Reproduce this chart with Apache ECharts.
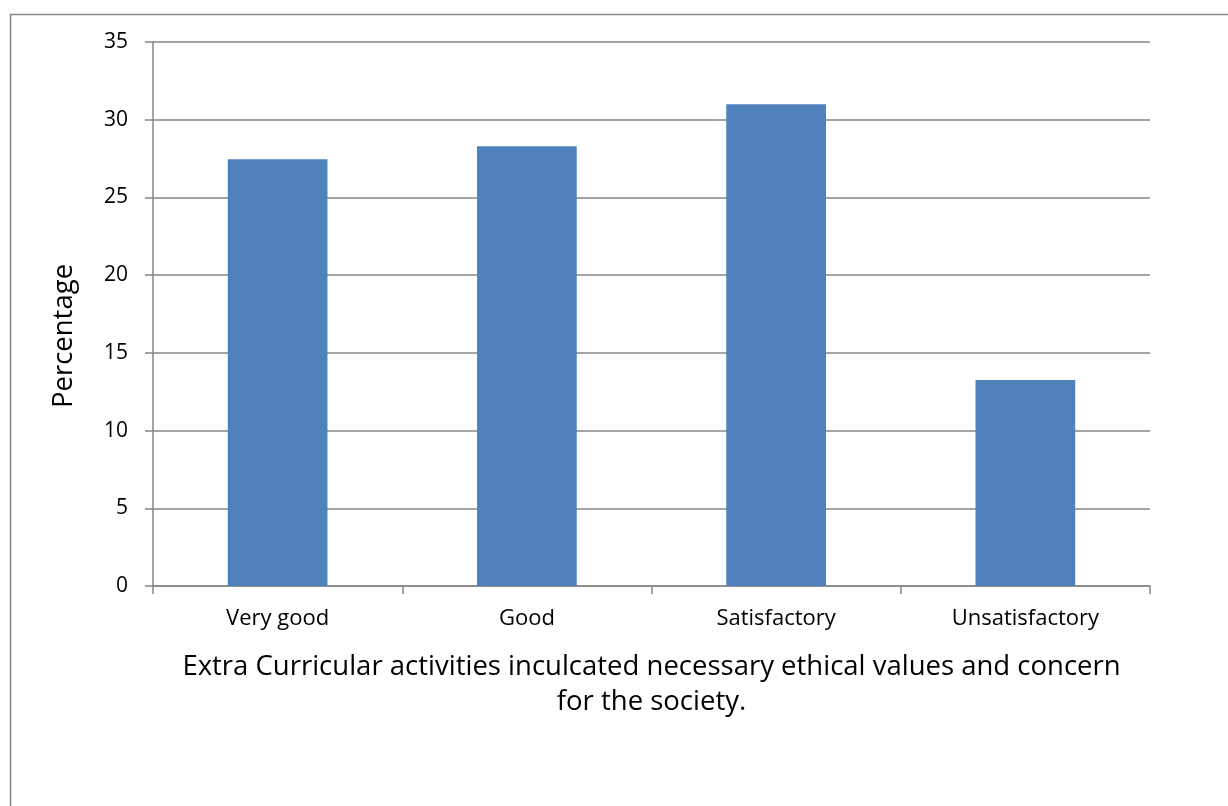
<!DOCTYPE html>
<html><head><meta charset="utf-8">
<script src="https://cdn.jsdelivr.net/npm/echarts@6/dist/echarts.min.js"></script>
<style>html,body{margin:0;padding:0;background:#fff}#c{width:1228px;height:806px}</style>
</head><body><div id="c"></div>
<script>
const categories = ['Very good', 'Good', 'Satisfactory', 'Unsatisfactory'];
const values = [27.45, 28.3, 31.0, 13.25];
const yTicks = { min: 0, max: 35, interval: 5 };
const xTitle = 'Extra Curricular activities inculcated necessary ethical values and concern\nfor the society.';
const yTitle = 'Percentage';

const font = '"Open Sans", sans-serif';
const chart = echarts.init(document.getElementById('c'), null, { renderer: 'canvas' });
chart.setOption({
  animation: false,
  backgroundColor: '#fff',
  graphic: [{
    type: 'rect', left: 8, top: 12, z: -1,
    shape: { width: 1400, height: 1000 },
    style: { fill: 'none', stroke: '#868686', lineWidth: 1.5 }
  }],
  grid: { left: 153, top: 42, width: 997, height: 544 },
  xAxis: {
    type: 'category', data: categories,
    axisLine: { lineStyle: { color: '#868686', width: 1.5 } },
    axisTick: { show: true, length: 8, alignWithLabel: false, lineStyle: { color: '#868686', width: 1.5 } },
    axisLabel: { color: '#000', fontSize: 22, fontFamily: font, margin: 22 },
    name: xTitle, nameLocation: 'middle', nameGap: 64,
    nameTextStyle: { color: '#000', fontSize: 27.5, fontFamily: font, lineHeight: 35 }
  },
  yAxis: {
    type: 'value', min: yTicks.min, max: yTicks.max, interval: yTicks.interval,
    axisLine: { show: true, lineStyle: { color: '#868686', width: 1.5 } },
    axisTick: { show: true, length: 8, lineStyle: { color: '#868686', width: 1.5 } },
    splitLine: { lineStyle: { color: '#868686', width: 1.5 } },
    axisLabel: { color: '#000', fontSize: 21, fontFamily: font, margin: 25 },
    name: yTitle, nameLocation: 'middle', nameGap: 75, nameRotate: 90,
    nameTextStyle: { color: '#000', fontSize: 27.5, fontFamily: font, padding: [0, 44, 0, 0] }
  },
  series: [{
    type: 'bar', data: values, barWidth: '40%',
    itemStyle: { color: '#4F81BD' }
  }]
});
</script></body></html>
